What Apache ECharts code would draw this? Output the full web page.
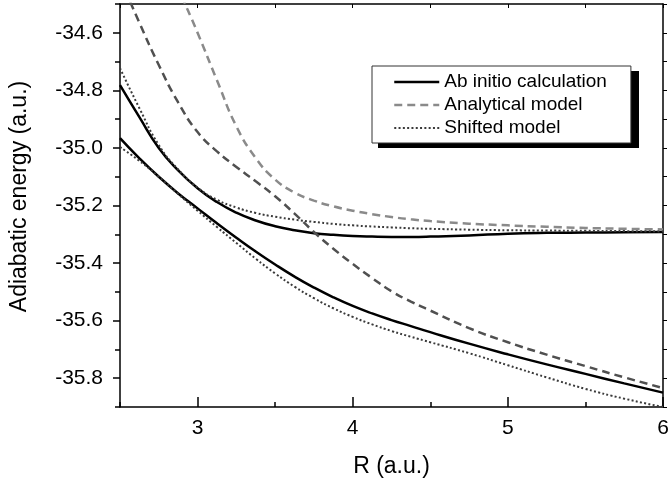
<!DOCTYPE html>
<html>
<head>
<meta charset="utf-8">
<script src="https://cdn.jsdelivr.net/npm/echarts@6/dist/echarts.min.js"></script>
<style>
  html, body { margin: 0; padding: 0; background: #fff; }
  #chart { width: 668px; height: 484px; }
</style>
</head>
<body>
<div id="chart"></div>
<script>
// R grid (a.u.) shared by all curves, energies (a.u.)
const rGrid = [2.5, 2.625, 2.75, 2.875, 3.0, 3.125, 3.25, 3.375, 3.5, 3.625, 3.75, 3.875, 4.0, 4.125, 4.25, 4.375, 4.5, 4.75, 5.0, 5.25, 5.5, 5.75, 6.0]
const abInitioUpper = [-34.782, -34.893, -35.000, -35.078, -35.140, -35.188, -35.225, -35.252, -35.272, -35.286, -35.296, -35.302, -35.306, -35.308, -35.309, -35.309, -35.308, -35.304, -35.298, -35.295, -35.294, -35.293, -35.292]
const abInitioLower = [-34.966, -35.036, -35.100, -35.158, -35.210, -35.262, -35.312, -35.360, -35.405, -35.447, -35.485, -35.519, -35.549, -35.575, -35.598, -35.619, -35.640, -35.680, -35.717, -35.752, -35.785, -35.818, -35.850]
const analyticalUpper = [-33.83, -34.05, -34.25, -34.44, -34.600, -34.765, -34.925, -35.035, -35.110, -35.155, -35.183, -35.203, -35.218, -35.230, -35.240, -35.248, -35.254, -35.263, -35.269, -35.274, -35.278, -35.281, -35.283]
const analyticalLower = [-34.41, -34.565, -34.712, -34.842, -34.945, -35.012, -35.066, -35.116, -35.168, -35.228, -35.292, -35.350, -35.403, -35.452, -35.498, -35.534, -35.565, -35.626, -35.675, -35.718, -35.758, -35.797, -35.834]
const shiftedUpper = [-34.723, -34.862, -34.990, -35.075, -35.138, -35.180, -35.207, -35.226, -35.239, -35.249, -35.257, -35.264, -35.269, -35.273, -35.276, -35.279, -35.281, -35.284, -35.286, -35.287, -35.288, -35.289, -35.290]
const shiftedLower = [-34.997, -35.045, -35.100, -35.160, -35.218, -35.275, -35.330, -35.385, -35.436, -35.482, -35.522, -35.557, -35.587, -35.613, -35.636, -35.656, -35.675, -35.713, -35.755, -35.797, -35.837, -35.871, -35.900]

// tick positions
const xMajor = [3, 4, 5, 6]
const xMinor = [2.5, 3.5, 4.5, 5.5]
const xTop = [2.5, 3, 3.5, 4, 4.5, 5, 5.5, 6]
const yMajor = [-35.8, -35.6, -35.4, -35.2, -35.0, -34.8, -34.6]
const yMinor = [-35.9, -35.7, -35.5, -35.3, -35.1, -34.9, -34.7, -34.5]
const yRight = [-35.9, -35.8, -35.7, -35.6, -35.5, -35.4, -35.3, -35.2, -35.1, -35.0, -34.9, -34.8, -34.7, -34.6, -34.5]

const legendNames = ['Ab initio calculation', 'Analytical model', 'Shifted model']

function pairs(xs, ys) {
  return xs.map((x, i) => [x, ys[i]])
}

const FONT = 'Liberation Sans, Arial, sans-serif'
const X_MIN = 2.5
const X_MAX = 6
const Y_MIN = -35.9
const Y_MAX = -34.5

const chart = echarts.init(document.getElementById('chart'))

const blank = { show: false }
const axisLine = { show: true, lineStyle: { color: '#000', width: 1.5 } }

function line(name, data, color, width, type) {
  return {
    name: name,
    type: 'line',
    data: data,
    symbol: 'none',
    smooth: 0.5,
    clip: true,
    silent: true,
    lineStyle: { color: color, width: width, type: type },
    itemStyle: { color: color, opacity: 0 },
    z: 3
  }
}

chart.setOption({
  animation: false,
  backgroundColor: '#fff',
  textStyle: { fontFamily: FONT },
  grid: {
    left: 120,
    right: 5,
    top: 4,
    bottom: 77,
    containLabel: false,
    outerBoundsMode: 'none'
  },
  legend: {
    data: legendNames,
    orient: 'vertical',
    left: 372,
    top: 66,
    itemWidth: 45,
    itemHeight: 20,
    itemGap: 3,
    padding: [6, 24, 5, 21],
    backgroundColor: '#fff',
    borderColor: '#333',
    borderWidth: 1,
    selectedMode: false,
    itemStyle: { opacity: 0 },
    lineStyle: { width: 'inherit' },
    textStyle: { fontFamily: FONT, fontSize: 19, color: '#000', lineHeight: 20 }
  },
  xAxis: [
    {
      type: 'value',
      position: 'bottom',
      min: X_MIN,
      max: X_MAX,
      name: 'R (a.u.)',
      nameLocation: 'middle',
      nameGap: 48,
      nameTextStyle: { fontFamily: FONT, fontSize: 23, color: '#000' },
      axisLine: axisLine,
      axisTick: { show: true, inside: true, length: 10, customValues: xMajor, lineStyle: { color: '#000', width: 1.5 } },
      axisLabel: { customValues: xMajor, margin: 11, fontFamily: FONT, fontSize: 21, color: '#000' },
      splitLine: blank
    },
    {
      type: 'value',
      position: 'bottom',
      min: X_MIN,
      max: X_MAX,
      axisLine: blank,
      axisTick: { show: true, inside: true, length: 5, customValues: xMinor, lineStyle: { color: '#000', width: 1.5 } },
      axisLabel: blank,
      splitLine: blank
    },
    {
      type: 'value',
      position: 'top',
      min: X_MIN,
      max: X_MAX,
      axisLine: axisLine,
      axisTick: { show: true, inside: true, length: 4, customValues: xTop, lineStyle: { color: '#000', width: 1 } },
      axisLabel: blank,
      splitLine: blank
    }
  ],
  yAxis: [
    {
      type: 'value',
      position: 'left',
      min: Y_MIN,
      max: Y_MAX,
      axisLine: axisLine,
      axisTick: { show: true, inside: false, length: 7, customValues: yMajor, lineStyle: { color: '#000', width: 1.5 } },
      axisLabel: {
        customValues: yMajor,
        margin: 17,
        fontFamily: FONT,
        fontSize: 21,
        color: '#000',
        formatter: v => v.toFixed(1)
      },
      splitLine: blank
    },
    {
      type: 'value',
      position: 'left',
      min: Y_MIN,
      max: Y_MAX,
      axisLine: blank,
      axisTick: { show: true, inside: false, length: 5, customValues: yMinor, lineStyle: { color: '#000', width: 1.5 } },
      axisLabel: blank,
      splitLine: blank
    },
    {
      type: 'value',
      position: 'right',
      min: Y_MIN,
      max: Y_MAX,
      axisLine: axisLine,
      axisTick: { show: true, inside: false, length: 4, customValues: yRight, lineStyle: { color: '#000', width: 1 } },
      axisLabel: blank,
      splitLine: blank
    }
  ],
  graphic: [
    {
      // drop shadow behind the legend box
      type: 'rect',
      left: 378,
      top: 71,
      z: 1,
      shape: { width: 261, height: 77 },
      style: { fill: '#000' }
    },
    {
      type: 'text',
      x: 19.5,
      y: 196.5,
      rotation: Math.PI / 2,
      style: {
        text: 'Adiabatic energy (a.u.)',
        fontFamily: FONT,
        fontSize: 23,
        fill: '#000',
        align: 'center',
        verticalAlign: 'middle'
      }
    }
  ],
  series: [
    line('Ab initio calculation', pairs(rGrid, abInitioUpper), '#000', 2.5, 'solid'),
    line('Ab initio calculation', pairs(rGrid, abInitioLower), '#000', 2.5, 'solid'),
    line('Analytical model', pairs(rGrid, analyticalUpper), '#8a8a8a', 2.5, [8, 5]),
    line('Analytical model', pairs(rGrid, analyticalLower), '#505050', 2.5, [8, 5]),
    line('Shifted model', pairs(rGrid, shiftedUpper), '#3a3a3a', 2, [2, 2.3]),
    line('Shifted model', pairs(rGrid, shiftedLower), '#3a3a3a', 2, [2, 2.3])
  ]
})
</script>
</body>
</html>
